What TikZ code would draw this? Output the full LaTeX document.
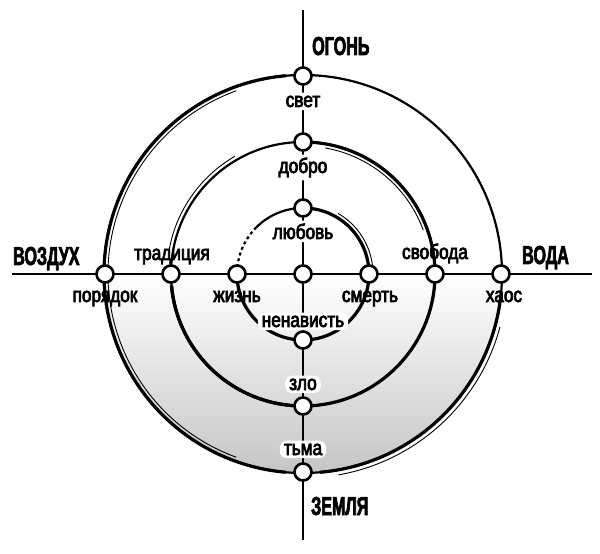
\documentclass[tikz,border=0pt]{standalone}
\usepackage{fontspec}
\setmainfont{Liberation Sans}
\newfontfamily\lblfam[FakeStretch=0.82, FakeBold=3.5]{Liberation Sans}
\newfontfamily\elemfam[FakeStretch=0.62, FakeBold=2.5]{Liberation Sans}
\usetikzlibrary{positioning}

\tikzset{
  axis/.style={line width=2.8pt},
  ring/.style={line width=3.2pt},
  thinring/.style={line width=2.2pt},
  sketch/.style={line width=0.9pt},
  ptnode/.style={circle, draw, fill=white, line width=2.6pt, minimum size=17pt, inner sep=0pt},
  lbl/.style={font=\lblfam\fontsize{21}{24}\selectfont, anchor=base, inner sep=1pt},
  wlbl/.style={lbl, fill=white, rounded corners=7pt, inner xsep=4pt, inner ysep=3pt},
  elem/.style={font=\elemfam\bfseries\fontsize{26}{28}\selectfont, anchor=base west, inner sep=0pt}
}

\begin{document}
\begin{tikzpicture}[x=1pt, y=1pt]
    \useasboundingbox (-303,-280) rectangle (297,274);
    \coordinate (c) at (0,0);

    % тень нижней половины
    \shade[top color=white, bottom color=gray!45] (-199,0) arc[start angle=180, end angle=360, radius=199] -- cycle;

    % внешний круг
    \draw[thinring] (c) circle (199);
    \draw[ring] (95:199) arc[start angle=95, end angle=265, radius=199];
    \draw[ring] (275:199) arc[start angle=275, end angle=355, radius=199];
    \draw[sketch] (110:195) arc[start angle=110, end angle=250, radius=195];
    \draw[sketch] (280:204) arc[start angle=280, end angle=345, radius=204];

    % средний круг
    \draw[thinring] (c) circle (132);
    \draw[ring] (90:132) arc[start angle=90, end angle=-175, radius=132];
    \draw[ring] (185:132) arc[start angle=185, end angle=270, radius=132];
    \draw[sketch] (120:136) arc[start angle=120, end angle=170, radius=136];
    \draw[sketch] (80:128) arc[start angle=80, end angle=20, radius=128];

    % внутренний круг
    \draw[ring] (90:66) arc[start angle=90, end angle=-180, radius=66];
    \draw[thinring] (90:66) arc[start angle=90, end angle=135, radius=66];
    \draw[thinring, dashed] (135:66) arc[start angle=135, end angle=180, radius=66];
    \draw[sketch] (60:70) arc[start angle=60, end angle=5, radius=70];

    % оси
    \coordinate (top) at (0,264);
    \coordinate (bottom) at (0,-266);
    \coordinate (left) at (-291,0);
    \coordinate (right) at (289,0);
    \draw[axis] (top) -- (bottom);
    \draw[axis] (left) -- (right);

    % стихии
    \node[elem] (ogon) at (9,219) {ОГОНЬ};
    \node[elem] (zemlya) at (8,-241) {ЗЕМЛЯ};
    \node[elem] (vozduh) at (-290,9) {ВОЗДУХ};
    \node[elem] (voda) at (219,10) {ВОДА};

    % подписи на вертикали
    \node[wlbl] (svet) at (0,167) {свет};
    \node[wlbl] (dobro) at (0,101) {добро};
    \node[wlbl] (lyubov) at (0,35) {любовь};
    \node[wlbl] (nenavist) at (0,-53) {ненависть};
    \node[wlbl] (zlo) at (0,-116) {зло};
    \node[wlbl] (tma) at (0,-181) {тьма};

    % подписи на горизонтали
    \node[lbl] (poryadok) at (-198,-28) {порядок};
    \node[lbl] (traditsiya) at (-131,14) {традиция};
    \node[lbl] (zhizn) at (-66,-28) {жизнь};
    \node[lbl] (smert) at (67,-28) {смерть};
    \node[lbl] (svoboda) at (132,15) {свобода};
    \node[lbl] (khaos) at (201,-28) {хаос};

    % точки
    \foreach \r/\n in {66/1, 132/2, 198/3} {
        \node[ptnode] (up\n) at (0,\r) {};
        \node[ptnode] (dn\n) at (0,-\r) {};
        \node[ptnode] (lt\n) at (-\r,0) {};
        \node[ptnode] (rt\n) at (\r,0) {};
    }
    \node[ptnode] (mid) at (c) {};
\end{tikzpicture}
\end{document}
